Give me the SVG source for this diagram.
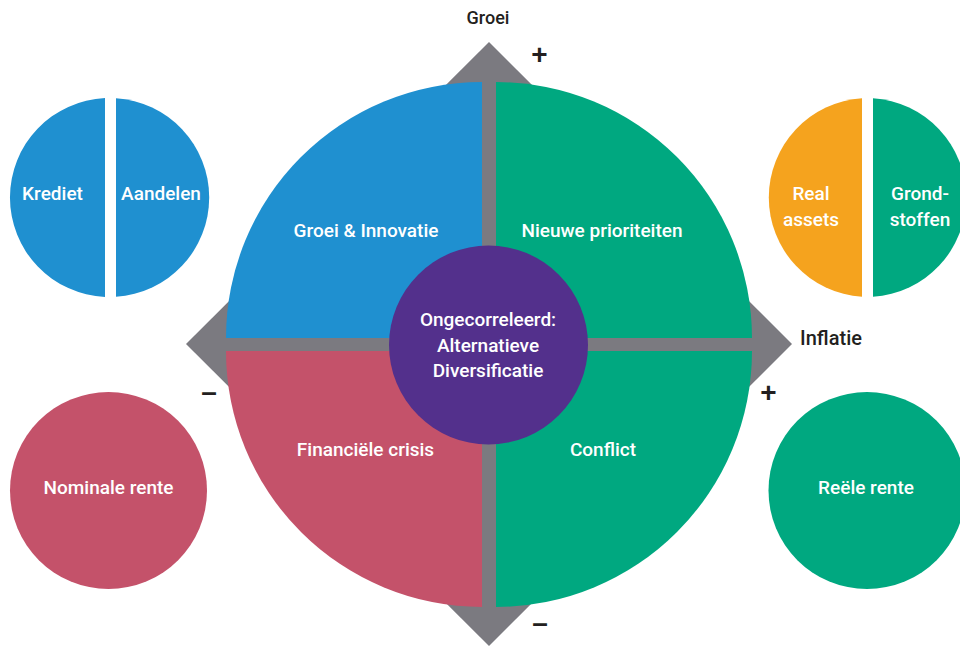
<svg xmlns="http://www.w3.org/2000/svg" width="960" height="646" viewBox="0 0 960 646">
  <style>
    .lbl { font-family: Roboto, "Liberation Sans", Arial, sans-serif; font-weight: 500; font-size: 19px; fill: #ffffff; text-anchor: middle; }
    .axis { font-family: Roboto, "Liberation Sans", Arial, sans-serif; font-weight: 500; fill: #231f20; text-anchor: middle; }
    .sign { font-family: "Liberation Sans", Arial, sans-serif; font-weight: bold; font-size: 28px; fill: #231f20; text-anchor: middle; }
    .blue { fill: #1f90d0; }
    .green { fill: #00a880; }
    .red { fill: #c4526a; }
    .orange { fill: #f5a31e; }
    .purple { fill: #53308c; }
    .grey { fill: #7b7a80; }
  </style>

  <rect width="960" height="646" fill="#ffffff"/>

  <!-- axes: grey diamond behind the quadrants, visible as arrow tips and the cross between them -->
  <g id="axes">
    <polygon class="grey" points="489,42 792,344 489,646 186,344"/>
    <text class="axis" x="488" y="24" font-size="18">Groei</text>
    <text class="sign" x="539.5" y="64">+</text>
    <text class="axis" x="831" y="345" font-size="20">Inflatie</text>
    <text class="sign" x="768.5" y="402">+</text>
    <text class="sign" x="209" y="401">–</text>
    <text class="sign" x="540" y="632">–</text>
  </g>

  <!-- four quadrants of the main circle -->
  <g id="q-groei-innovatie">
    <path class="blue" d="M482,338 L226,338 A256,256 0 0 1 482,82 Z"/>
    <text class="lbl" x="366" y="237">Groei &amp; Innovatie</text>
  </g>
  <g id="q-nieuwe-prioriteiten">
    <path class="green" d="M496,338 L496,82 A256,256 0 0 1 752,338 Z"/>
    <text class="lbl" x="602" y="237">Nieuwe prioriteiten</text>
  </g>
  <g id="q-financiele-crisis">
    <path class="red" d="M482,351 L482,607 A256,256 0 0 1 226,351 Z"/>
    <text class="lbl" x="365.5" y="456">Financiële crisis</text>
  </g>
  <g id="q-conflict">
    <path class="green" d="M496,351 L752,351 A256,256 0 0 1 496,607 Z"/>
    <text class="lbl" x="603" y="456">Conflict</text>
  </g>

  <!-- centre -->
  <g id="centre">
    <circle class="purple" cx="488.5" cy="345" r="99.5"/>
    <text class="lbl" x="488" y="326">Ongecorreleerd:</text>
    <text class="lbl" x="488" y="352">Alternatieve</text>
    <text class="lbl" x="488" y="377">Diversificatie</text>
  </g>

  <!-- satellite circles -->
  <g id="krediet-aandelen">
    <path class="blue" d="M105,98.1 A99.5,99.5 0 0 0 105,296.9 Z"/>
    <path class="blue" d="M116,98.2 A99.5,99.5 0 0 1 116,296.8 Z"/>
    <text class="lbl" x="52.5" y="200">Krediet</text>
    <text class="lbl" x="161" y="200">Aandelen</text>
  </g>
  <g id="real-assets-grondstoffen">
    <path class="orange" d="M862,98.2 A99.5,99.5 0 0 0 862,296.8 Z"/>
    <path class="green" d="M873,98.2 A99.5,99.5 0 0 1 873,296.8 Z"/>
    <text class="lbl" x="811" y="200">Real</text>
    <text class="lbl" x="811" y="226">assets</text>
    <text class="lbl" x="920" y="200">Grond-</text>
    <text class="lbl" x="920" y="226">stoffen</text>
  </g>
  <g id="nominale-rente">
    <circle class="red" cx="108.5" cy="490.5" r="98.5"/>
    <text class="lbl" x="108.5" y="494">Nominale rente</text>
  </g>
  <g id="reele-rente">
    <circle class="green" cx="867" cy="490.5" r="98.5"/>
    <text class="lbl" x="866" y="494">Reële rente</text>
  </g>
</svg>
